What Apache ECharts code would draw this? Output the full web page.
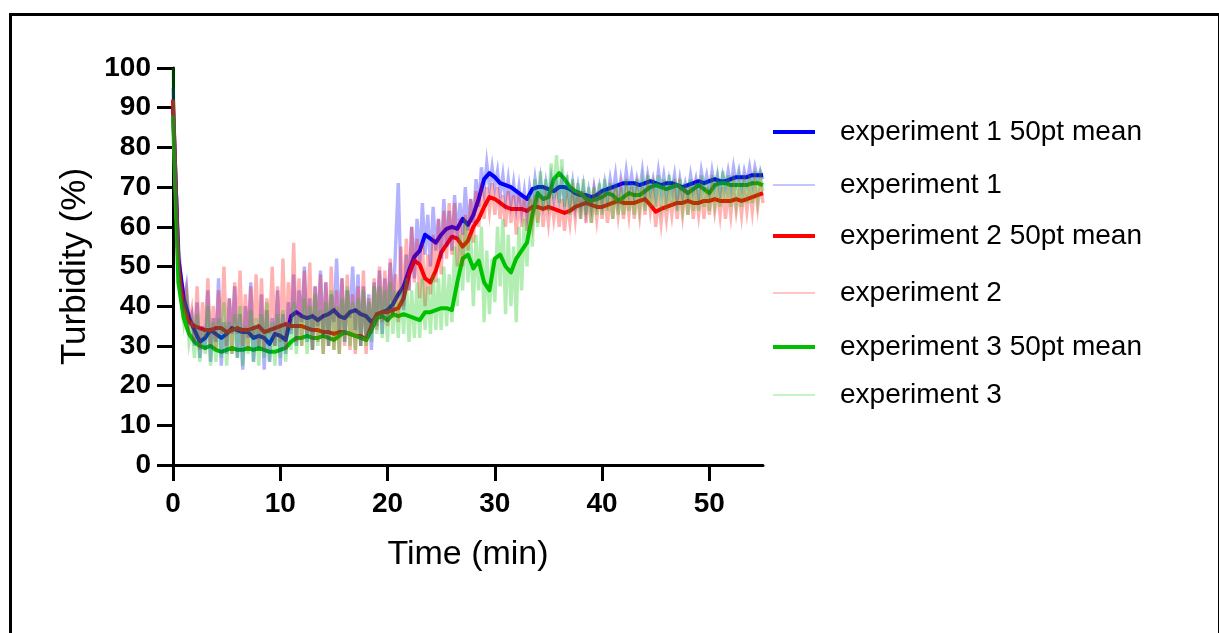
<!DOCTYPE html>
<html>
<head>
<meta charset="utf-8">
<script src="https://cdn.jsdelivr.net/npm/echarts@6/dist/echarts.min.js"></script>
<style>
  html, body { margin: 0; padding: 0; background: #fff; }
  #chart { width: 1219px; height: 633px; }
</style>
</head>
<body>
<div id="chart"></div>
<script>
// Sampling grids (minutes)
const meanStep = 0.5;   // 50-point running mean, one value every 0.5 min
const rawStep = 0.25;   // raw turbidity readings, one value every 0.25 min

const xTicks = [0, 10, 20, 30, 40, 50];

// 50pt running means, t = 0 .. 55 min
const exp1Mean = [
  90, 52, 42, 37, 34, 31, 32, 34, 33, 32,
  33, 34.5, 34, 33.5, 33.5, 32, 32.5, 32, 30.5, 33,
  32.5, 31.5, 37.5, 38.5, 37.5, 37, 37.5, 36.5, 37.5, 38,
  39, 37.5, 37, 38.5, 39, 38, 37.5, 36, 37.5, 38.5,
  39, 40.5, 43, 45, 49, 52.5, 54, 58, 57, 56,
  58, 59.5, 60, 59.5, 62, 60.5, 63, 67, 72, 73.5,
  72.5, 71, 70.5, 70, 69, 68, 67, 69.5, 70, 70,
  69.5, 69, 70, 70, 69.5, 68.5, 68, 68, 67.5, 68,
  69, 69.5, 70, 70.5, 71, 71, 71, 70.5, 71, 71.5,
  71, 70.5, 71, 71, 70.5, 70, 70.5, 71, 71.5, 71,
  71.5, 72, 71.5, 71.5, 72, 72.5, 72.5, 72.5, 73, 73,
  73
];
const exp2Mean = [
  92, 50, 39, 36, 35, 34.5, 34, 34, 34.5, 34.5,
  33.5, 34, 34.5, 34, 34, 34.5, 35, 33.5, 34, 34.5,
  35, 35.5, 35, 35, 35, 34.5, 34, 34, 33.5, 33.5,
  33, 33.5, 33.5, 33, 32.5, 32.5, 31.5, 35, 38, 38.5,
  38.5, 39, 39.5, 42, 48, 51.5, 50.5, 47, 46, 49,
  53.5, 55.5, 57.5, 57, 55, 56.5, 60, 62, 65, 67.5,
  67, 66, 65, 64.5, 64.5, 64.5, 64, 65, 65, 64.5,
  65, 64.5, 64, 63.5, 64, 65, 65.5, 66, 65.5, 65,
  65, 65.5, 66, 66.5, 66, 66, 66, 66.5, 67, 65.5,
  63.8, 64.5, 65, 65.5, 66, 66, 66.5, 66, 66, 66.5,
  66.5, 67, 66.5, 66.5, 66.5, 67, 66.5, 67, 67.5, 68,
  68.5
];
const exp3Mean = [
  88, 46, 37, 33, 31, 30, 29.5, 30, 29, 28.5,
  29, 29.5, 29, 29, 29.5, 29, 29.5, 29, 28.5, 28.5,
  29, 29.5, 31, 32, 32, 32.5, 32, 32, 32.5, 32,
  31.5, 32.5, 33.5, 33, 32.5, 32, 31.5, 34, 37, 37.5,
  36.5, 38, 37.5, 38, 37.5, 37, 36.5, 38.5, 38.5, 39,
  39.5, 39.5, 39, 46, 52, 53, 49.5, 51.5, 46, 44,
  52, 53, 50, 48.5, 52, 54, 56, 63, 68.5, 67,
  67.5, 72, 73.5, 72, 70, 69, 68.5, 67, 66.5, 67,
  67.5, 68.5, 68, 66.5, 67.5, 68.5, 68, 68, 69, 70,
  70.5, 70, 69.5, 70, 70.5, 69.5, 68.5, 69.5, 70.5, 69.5,
  68.5, 70.5, 71, 71, 70.5, 70.5, 70.5, 70.5, 71, 71,
  70.5
];

// Raw readings, t = 0 .. 55 min (four readings per minute)
const exp1Raw = [
  95, 72, 56, 47,  41, 45, 36, 38,  30, 41, 27, 35,  29, 44, 26, 37,
  31, 47, 25, 36,  28, 42, 33, 45,  27, 38, 24, 40,  32, 46, 26, 35,
  29, 43, 24, 39,  26, 37, 30, 44,  25, 38, 28, 41,  33, 48, 30, 44,
  36, 50, 31, 42,  29, 45, 35, 49,  32, 46, 30, 43,  36, 52, 33, 47,
  31, 44, 37, 50,  34, 48, 30, 45,  32, 43, 29, 46,  35, 49, 33, 47,
  36, 51, 38, 55,  71, 46, 39, 53,  44, 60, 47, 62,  51, 66, 53, 63,
  50, 65, 54, 62,  52, 67, 55, 64,  54, 68, 57, 66,  58, 70, 59, 67,
  61, 72, 65, 75,  69, 76, 70, 75,  70, 74, 68, 73,  67, 72, 66, 71,
  65, 70, 64, 69,  63, 70, 66, 72,  67, 72, 66, 71,  66, 72, 67, 71,
  67, 72, 66, 71,  66, 71, 65, 70,  65, 70, 64, 69,  65, 70, 66, 70,
  66, 71, 67, 72,  68, 73, 67, 72,  68, 74, 69, 73,  68, 72, 69, 74,
  68, 73, 69, 72,  68, 74, 69, 73,  68, 72, 69, 73,  67, 72, 68, 71,
  68, 73, 69, 72,  68, 74, 70, 73,  69, 74, 70, 73,  69, 73, 70, 74,
  70, 75, 71, 74,  70, 74, 71, 75,  71, 75, 72, 74,  72
];
const exp2Raw = [
  92, 68, 54, 45,  40, 44, 35, 39,  31, 45, 29, 41,  32, 47, 30, 40,
  29, 44, 33, 50,  30, 42, 28, 46,  33, 49, 30, 43,  29, 45, 32, 48,
  30, 47, 29, 42,  33, 50, 30, 45,  31, 52, 29, 46,  34, 56, 31, 47,
  30, 49, 33, 51,  29, 45, 31, 48,  28, 46, 30, 50,  29, 44, 28, 47,
  30, 48, 29, 43,  28, 45, 30, 49,  28, 42, 33, 47,  34, 50, 36, 49,
  35, 52, 37, 48,  36, 55, 40, 57,  44, 60, 46, 57,  42, 56, 40, 53,
  43, 58, 46, 62,  48, 64, 52, 66,  53, 66, 50, 62,  50, 63, 54, 67,
  56, 69, 60, 71,  62, 70, 64, 71,  63, 70, 62, 68,  60, 69, 61, 68,
  58, 68, 60, 67,  59, 67, 61, 68,  61, 68, 60, 67,  61, 68, 62, 67,
  60, 67, 59, 66,  61, 68, 62, 69,  62, 69, 61, 68,  61, 68, 62, 69,
  62, 69, 61, 68,  62, 70, 63, 69,  62, 69, 63, 70,  62, 69, 63, 70,
  63, 70, 64, 69,  60, 67, 61, 68,  62, 68, 63, 69,  62, 69, 63, 70,
  63, 70, 62, 69,  63, 69, 62, 70,  63, 70, 64, 69,  63, 70, 62, 69,
  63, 70, 64, 69,  63, 70, 64, 70,  64, 71, 65, 71,  66
];
const exp3Raw = [
  100, 66, 50, 42,  36, 41, 31, 35,  27, 38, 26, 34,  28, 40, 25, 36,
  26, 37, 27, 41,  25, 36, 28, 38,  27, 40, 25, 35,  28, 39, 26, 37,
  25, 38, 27, 41,  26, 36, 25, 38,  27, 39, 26, 36,  29, 41, 28, 38,
  30, 42, 28, 40,  29, 43, 30, 39,  28, 41, 30, 44,  29, 40, 28, 42,
  31, 45, 30, 41,  29, 42, 30, 44,  30, 41, 31, 45,  33, 45, 32, 44,
  31, 46, 33, 44,  32, 45, 33, 47,  31, 44, 32, 46,  32, 47, 34, 45,
  33, 48, 34, 47,  34, 50, 35, 48,  36, 55, 40, 58,  44, 62, 46, 58,
  40, 58, 44, 60,  36, 54, 38, 52,  41, 60, 45, 62,  38, 58, 40, 55,
  36, 60, 44, 62,  50, 68, 55, 72,  60, 74, 64, 72,  64, 76, 67, 78,
  66, 77, 65, 73,  63, 72, 64, 71,  62, 72, 63, 70,  61, 70, 63, 71,
  63, 72, 64, 71,  62, 71, 63, 70,  63, 72, 64, 71,  63, 72, 65, 71,
  64, 73, 65, 72,  65, 73, 66, 72,  64, 73, 65, 72,  64, 72, 65, 71,
  63, 72, 64, 71,  64, 73, 65, 72,  64, 73, 66, 72,  65, 74, 66, 73,
  65, 73, 66, 72,  65, 73, 66, 73,  66, 74, 67, 73,  69
];

const toPairs = (vals, step) => vals.map((v, i) => [i * step, v]);

const FONT = '"Liberation Sans", Arial, Helvetica, sans-serif';
const BLUE = '#0000ff', RED = '#ff0000', GREEN = '#00bf00';
const RAW_ALPHA = 0.3;

function meanSeries(name, vals, color) {
  return {
    name, type: 'line', data: toPairs(vals, meanStep),
    showSymbol: false, symbol: 'none', z: 2,
    lineStyle: { color, width: 4, join: 'round' },
    itemStyle: { color }
  };
}
function rawSeries(name, vals, rgb) {
  const c = `rgba(${rgb},${RAW_ALPHA})`;
  return {
    name, type: 'line', data: toPairs(vals, rawStep),
    showSymbol: false, symbol: 'none', z: 3,
    lineStyle: { color: c, width: 3.4, join: 'miter' },
    itemStyle: { color: c }
  };
}

// Legend rows: each entry is its own legend block so rows keep their own spacing
const legendRows = [
  { name: 'experiment 1 50pt mean', top: 118, color: BLUE, h: 4 },
  { name: 'experiment 1', top: 171, color: '#c4c4ff', h: 2 },
  { name: 'experiment 2 50pt mean', top: 222, color: RED, h: 4 },
  { name: 'experiment 2', top: 279, color: '#ffc4c4', h: 2 },
  { name: 'experiment 3 50pt mean', top: 333, color: GREEN, h: 4 },
  { name: 'experiment 3', top: 381, color: '#c4f4c4', h: 2 }
];

const chart = echarts.init(document.getElementById('chart'), null, { renderer: 'canvas' });
chart.setOption({
  animation: false,
  backgroundColor: '#fff',
  graphic: [{
    type: 'rect', left: 8, top: 12, silent: true,
    shape: { width: 1209, height: 700 },
    style: { fill: 'none', stroke: '#000', lineWidth: 3 }
  }],
  grid: { left: 173, top: 68, width: 590, height: 397, containLabel: false },
  legend: legendRows.map(r => ({
    left: 773, top: r.top, orient: 'vertical',
    itemWidth: 42, itemHeight: r.h, padding: 0,
    selectedMode: false,
    icon: 'rect',
    data: [{ name: r.name, icon: 'rect', itemStyle: { color: r.color } }],
    textStyle: { fontFamily: FONT, fontSize: 28, color: '#000', padding: [0, 0, 0, 20] }
  })),
  xAxis: {
    type: 'value', min: 0, max: 55, interval: 10,
    name: 'Time (min)', nameLocation: 'middle', nameGap: 73,
    nameTextStyle: { fontFamily: FONT, fontSize: 34, color: '#000' },
    axisLine: { show: true, onZero: false, lineStyle: { color: '#000', width: 3 } },
    axisTick: { show: true, length: 16, lineStyle: { color: '#000', width: 3 }, customValues: xTicks },
    axisLabel: { fontFamily: FONT, fontSize: 28, fontWeight: 'bold', color: '#000', margin: 25, customValues: xTicks },
    splitLine: { show: false }
  },
  yAxis: {
    type: 'value', min: 0, max: 100, interval: 10,
    name: 'Turbidity (%)', nameLocation: 'middle', nameGap: 80, nameRotate: 90,
    nameTextStyle: { fontFamily: FONT, fontSize: 35, color: '#000' },
    axisLine: { show: true, lineStyle: { color: '#000', width: 3 } },
    axisTick: { show: true, length: 16, lineStyle: { color: '#000', width: 3 } },
    axisLabel: { fontFamily: FONT, fontSize: 28, fontWeight: 'bold', color: '#000', margin: 22 },
    splitLine: { show: false }
  },
  series: [
    meanSeries('experiment 1 50pt mean', exp1Mean, BLUE),
    rawSeries('experiment 1', exp1Raw, '0,0,255'),
    meanSeries('experiment 2 50pt mean', exp2Mean, RED),
    rawSeries('experiment 2', exp2Raw, '255,0,0'),
    meanSeries('experiment 3 50pt mean', exp3Mean, GREEN),
    rawSeries('experiment 3', exp3Raw, '0,200,0')
  ]
});
</script>
</body>
</html>
